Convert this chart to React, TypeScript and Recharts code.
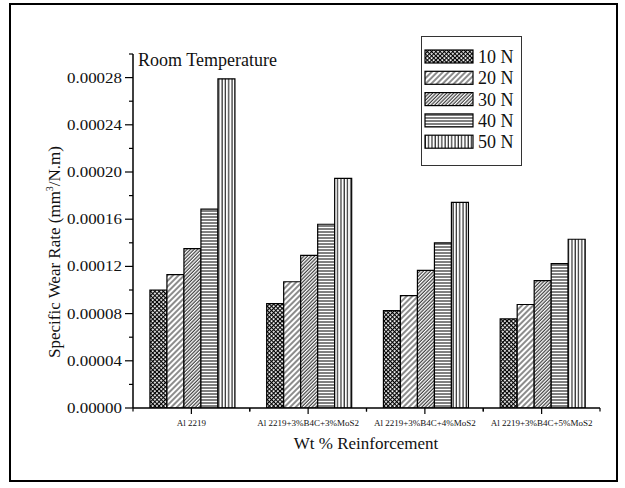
import React from 'react';
import { BarChart, Bar, XAxis, YAxis, Legend, Label } from 'recharts';

const CATEGORIES = [
  'Al 2219',
  'Al 2219+3%B4C+3%MoS2',
  'Al 2219+3%B4C+4%MoS2',
  'Al 2219+3%B4C+5%MoS2',
];
const LOAD_10N = [0.0001, 0.0000885, 0.0000826, 0.0000755];
const LOAD_20N = [0.000113, 0.000107, 0.0000953, 0.0000877];
const LOAD_30N = [0.000135, 0.0001294, 0.0001166, 0.000108];
const LOAD_40N = [0.0001685, 0.0001557, 0.00014, 0.0001223];
const LOAD_50N = [0.000279, 0.0001946, 0.0001742, 0.000143];
const SERIES_NAMES = ['10 N', '20 N', '30 N', '40 N', '50 N'];
const SERIES_KEYS = ['l10', 'l20', 'l30', 'l40', 'l50'];
const Y_TICKS = [
  0, 0.00002, 0.00004, 0.00006, 0.00008, 0.0001, 0.00012, 0.00014, 0.00016,
  0.00018, 0.0002, 0.00022, 0.00024, 0.00026, 0.00028, 0.0003,
];

const data = CATEGORIES.map((category, i) => ({
  category,
  l10: LOAD_10N[i],
  l20: LOAD_20N[i],
  l30: LOAD_30N[i],
  l40: LOAD_40N[i],
  l50: LOAD_50N[i],
}));

const FONT = "'Liberation Serif', 'Times New Roman', serif";
const TXT = { fontFamily: FONT };
const W = 625;
const H = 488;
const MARGIN = { top: 54, right: 25, bottom: 50, left: 73 };
const YAXIS_W = 60;
const PLOT_W = W - MARGIN.left - YAXIS_W - MARGIN.right;
const BAND = PLOT_W / CATEGORIES.length;

const PATTERN_IDS = ['pat10', 'pat20', 'pat30', 'pat40', 'pat50'];

const Patterns = () => (
  <svg width={0} height={0} style={{ position: 'absolute' }}>
    <defs>
      <pattern id="pat10" patternUnits="userSpaceOnUse" width={3} height={3} patternTransform="rotate(45)">
        <rect width={3} height={3} fill="#fff" />
        <line x1={0.5} y1={0} x2={0.5} y2={3} stroke="#000" strokeWidth={1.3} />
        <line x1={0} y1={0.5} x2={3} y2={0.5} stroke="#000" strokeWidth={1.3} />
      </pattern>
      <pattern id="pat20" patternUnits="userSpaceOnUse" width={4} height={4} patternTransform="rotate(45)">
        <rect width={4} height={4} fill="#fff" />
        <line x1={1} y1={0} x2={1} y2={4} stroke="#000" strokeWidth={0.9} />
      </pattern>
      <pattern id="pat30" patternUnits="userSpaceOnUse" width={2.5} height={2.5} patternTransform="rotate(45)">
        <rect width={2.5} height={2.5} fill="#fff" />
        <line x1={1} y1={0} x2={1} y2={2.5} stroke="#000" strokeWidth={0.9} />
      </pattern>
      <pattern id="pat40" patternUnits="userSpaceOnUse" width={4} height={3}>
        <rect width={4} height={3} fill="#fff" />
        <line x1={0} y1={1} x2={4} y2={1} stroke="#000" strokeWidth={1} />
      </pattern>
      <pattern id="pat50" patternUnits="userSpaceOnUse" width={3.3} height={4}>
        <rect width={3.3} height={4} fill="#fff" />
        <line x1={1} y1={0} x2={1} y2={4} stroke="#000" strokeWidth={1} />
      </pattern>
    </defs>
  </svg>
);

const YTick = (props: any) => {
  const { x, y, payload } = props;
  const major = Math.round(payload.value / 0.00002) % 2 === 0;
  return (
    <g>
      <line x1={x} y1={y} x2={x - (major ? 8 : 4)} y2={y} stroke="#000" strokeWidth={1.2} />
      {major && (
        <text
          x={x - 11}
          y={y + 5}
          textAnchor="end"
          style={TXT}
          fontSize={14}
          fill="#111"
          textLength={55}
          lengthAdjust="spacingAndGlyphs"
        >
          {payload.value.toFixed(5)}
        </text>
      )}
    </g>
  );
};

const XTick = (props: any) => {
  const { x, y, payload } = props;
  return (
    <g>
      <line x1={x} y1={y} x2={x} y2={y + 6} stroke="#000" strokeWidth={1.2} />
      <line x1={x - BAND / 2} y1={y} x2={x - BAND / 2} y2={y + 3.5} stroke="#000" strokeWidth={1.2} />
      <line x1={x + BAND / 2} y1={y} x2={x + BAND / 2} y2={y + 3.5} stroke="#000" strokeWidth={1.2} />
      <text x={x} y={y + 18} textAnchor="middle" style={TXT} fontSize={9} fill="#111">
        {payload.value}
      </text>
    </g>
  );
};

const LegendBox = (props: any) => {
  const payload = props.payload || [];
  return (
    <svg width={101} height={130}>
      <rect x={0.5} y={0.5} width={100} height={129} fill="#fff" stroke="#333" strokeWidth={1} />
      {payload.map((entry: any, i: number) => {
        const top = 14 + i * 21.3;
        return (
          <g key={entry.value}>
            <rect x={4} y={top} width={48} height={13} fill={`url(#${PATTERN_IDS[i]})`} stroke="#000" strokeWidth={1.2} />
            <text x={57} y={top + 13} style={TXT} fontSize={18} fill="#111">
              {entry.value}
            </text>
          </g>
        );
      })}
    </svg>
  );
};

const YTitle = () => (
  <text
    x={60}
    y={252}
    transform="rotate(-90, 60, 252)"
    textAnchor="middle"
    style={TXT}
    fontSize={17}
    fill="#111"
  >
    Specific Wear Rate (mm
    <tspan dy={-7} fontSize={10}>3</tspan>
    <tspan dy={7}>/N.m)</tspan>
  </text>
);

const XTitle = () => (
  <text x={366} y={449} textAnchor="middle" style={TXT} fontSize={17} fill="#111">
    Wt % Reinforcement
  </text>
);

export default function App() {
  return (
    <div style={{ position: 'absolute', left: 0, top: 0, width: W, height: H, background: '#fff', fontFamily: FONT }}>
      <Patterns />
      <div
        style={{
          position: 'absolute',
          left: 9,
          top: 3,
          width: 609,
          height: 479,
          border: '2px solid #000',
          boxSizing: 'border-box',
        }}
      />
      <div
        style={{
          position: 'absolute',
          left: 138,
          top: 50,
          fontFamily: FONT,
          fontSize: 18,
          color: '#111',
          lineHeight: '20px',
          whiteSpace: 'nowrap',
        }}
      >
        Room Temperature
      </div>
      <div style={{ position: 'absolute', left: 0, top: 0 }}>
        <BarChart
          width={W}
          height={H}
          data={data}
          margin={MARGIN}
          barCategoryGap="14.5%"
          barGap={0}
          style={{ fontFamily: FONT }}
        >
          <XAxis
            dataKey="category"
            height={30}
            axisLine={{ stroke: '#000', strokeWidth: 1.5 }}
            tickLine={false}
            tickSize={0}
            tickMargin={0}
            interval={0}
            tick={<XTick />}
          >
            <Label content={<XTitle />} />
          </XAxis>
          <YAxis
            width={YAXIS_W}
            domain={[0, 0.0003]}
            ticks={Y_TICKS}
            interval={0}
            axisLine={{ stroke: '#000', strokeWidth: 1.5 }}
            tickLine={false}
            tickSize={0}
            tickMargin={0}
            tick={<YTick />}
            allowDataOverflow
          >
            <Label content={<YTitle />} />
          </YAxis>
          <Legend
            layout="vertical"
            align="center"
            verticalAlign="middle"
            width={101}
            content={<LegendBox />}
            wrapperStyle={{ left: 421, top: 36, width: 101, height: 130 }}
          />
          {SERIES_KEYS.map((k, i) => (
            <Bar
              key={k}
              dataKey={k}
              name={SERIES_NAMES[i]}
              fill={`url(#${PATTERN_IDS[i]})`}
              stroke="#000"
              strokeWidth={1.2}
              isAnimationActive={false}
            />
          ))}
        </BarChart>
      </div>
    </div>
  );
}
